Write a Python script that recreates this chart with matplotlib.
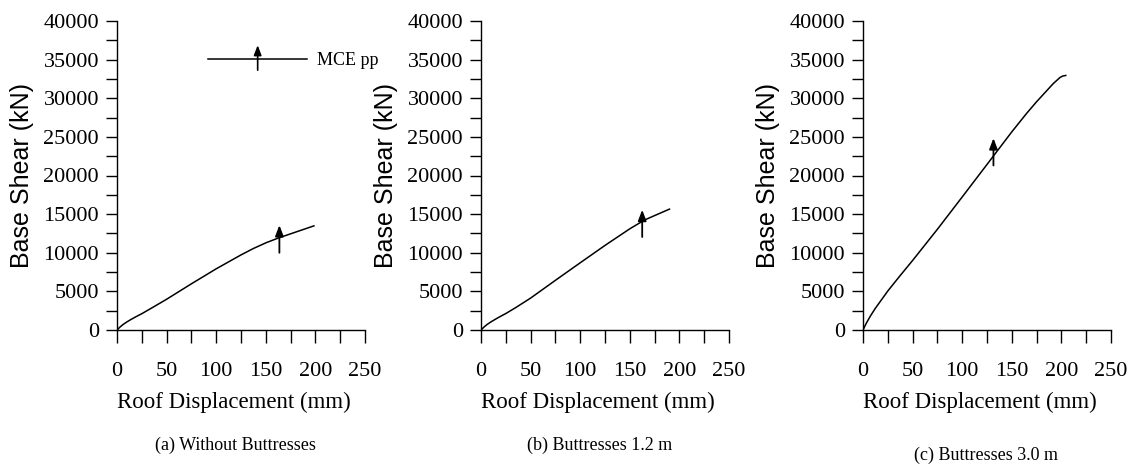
import numpy as np
import matplotlib
matplotlib.use('Agg')
import matplotlib.pyplot as plt
from matplotlib.lines import Line2D
from matplotlib.patches import FancyArrowPatch
from matplotlib.legend_handler import HandlerBase

plt.rcParams['font.family'] = 'Liberation Serif'

# pushover curves (roof displacement mm, base shear kN)
disp_a = [0, 3, 6, 10, 15, 20, 25, 35, 50, 75, 100, 125, 137.5, 150, 162.5, 175, 198.5]
shear_a = [0, 380, 700, 1050, 1430, 1780, 2110, 2850, 3980, 5980, 7920, 9720, 10550, 11280, 11900, 12450, 13480]

disp_b = [0, 3, 6, 10, 15, 20, 25, 35, 50, 75, 100, 125, 150, 165, 190]
shear_b = [0, 380, 700, 1050, 1430, 1790, 2130, 2900, 4130, 6430, 8700, 10950, 13100, 14250, 15650]

disp_c = [0, 3, 7.4, 12.4, 18, 25, 37.5, 50, 75, 100, 125, 150, 165, 175, 191.8, 198.7, 201.5, 204.4]
shear_c = [0, 800, 1800, 2800, 3800, 5050, 7050, 9000, 13040, 17220, 21430, 25650, 28050, 29550, 31900, 32700, 32880, 32950]

# MCE performance point arrows: x, tail, tip
mce_x = [163.7, 162.5, 131.5]
mce_tail = [10000, 12040, 21300]
mce_tip = [13570, 15560, 24830]

captions = ['(a) Without Buttresses', '(b) Buttresses 1.2 m', '(c) Buttresses 3.0 m']
curves = [(disp_a, shear_a), (disp_b, shear_b), (disp_c, shear_c)]

arrow_style = '-|>,head_length=0.65,head_width=0.25'


class ArrowLineHandler(HandlerBase):
    def create_artists(self, legend, orig_handle, xdescent, ydescent,
                       width, height, fontsize, trans):
        y = height / 2 - ydescent
        xm = width / 2 - xdescent
        line = Line2D([-xdescent, width - xdescent], [y, y], color='black',
                      lw=1.1, transform=trans)
        arr = FancyArrowPatch((xm, y - 8), (xm, y + 10), arrowstyle=arrow_style,
                              mutation_scale=9, color='black', lw=1.2,
                              shrinkA=0, shrinkB=0, transform=trans)
        return [line, arr]


fig = plt.figure(figsize=(11.36, 4.70), dpi=100)
lefts = [117, 481, 863]
W, H = 1136, 470

for i in range(3):
    ax = fig.add_axes([lefts[i] / W, 1 - 330 / H, 248 / W, 309 / H])
    x, y = curves[i]
    ax.plot(x, y, color='black', lw=1.1)
    ax.annotate('', xy=(mce_x[i], mce_tip[i]), xytext=(mce_x[i], mce_tail[i]),
                arrowprops=dict(arrowstyle=arrow_style, mutation_scale=10,
                                color='black', lw=1.3, shrinkA=0, shrinkB=0))
    ax.set_xlim(0, 250)
    ax.set_ylim(0, 40000)
    ax.spines['top'].set_visible(False)
    ax.spines['right'].set_visible(False)
    ax.spines['left'].set_linewidth(1.0)
    ax.spines['bottom'].set_linewidth(1.0)
    ax.set_xticks(np.arange(0, 251, 50))
    ax.set_xticks(np.arange(0, 251, 25), minor=True)
    ax.set_yticks(np.arange(0, 40001, 5000))
    ax.set_yticks(np.arange(0, 40001, 2500), minor=True)
    ax.tick_params(axis='x', which='both', direction='out', length=9, width=1)
    ax.tick_params(axis='x', which='major', pad=14, labelsize=16)
    ax.tick_params(axis='y', which='both', direction='out', length=8, width=1)
    ax.tick_params(axis='y', which='major', pad=5, labelsize=16)
    ax.set_xlabel('Roof Displacement (mm)', fontsize=16.5, labelpad=0)
    ax.xaxis.set_label_coords(0.47, -0.2)
    ax.set_ylabel('Base Shear (kN)', family='Liberation Sans', fontsize=18)
    ax.yaxis.set_label_coords(-0.335, 0.5)

    if i == 0:
        h = Line2D([], [], color='black')
        ax.legend([h], ['MCE pp'], handler_map={h: ArrowLineHandler()},
                  loc='center left', bbox_to_anchor=(0.367, 0.871),
                  frameon=False, borderpad=0, borderaxespad=0,
                  handlelength=5.5, handletextpad=0.55, fontsize=13)

cap_x = [235, 600, 986]
cap_y = [445, 445, 455]
for i in range(3):
    fig.text(cap_x[i] / W, 1 - cap_y[i] / H, captions[i], ha='center', va='center',
             fontsize=13)

fig.savefig('out.png', dpi=100)
